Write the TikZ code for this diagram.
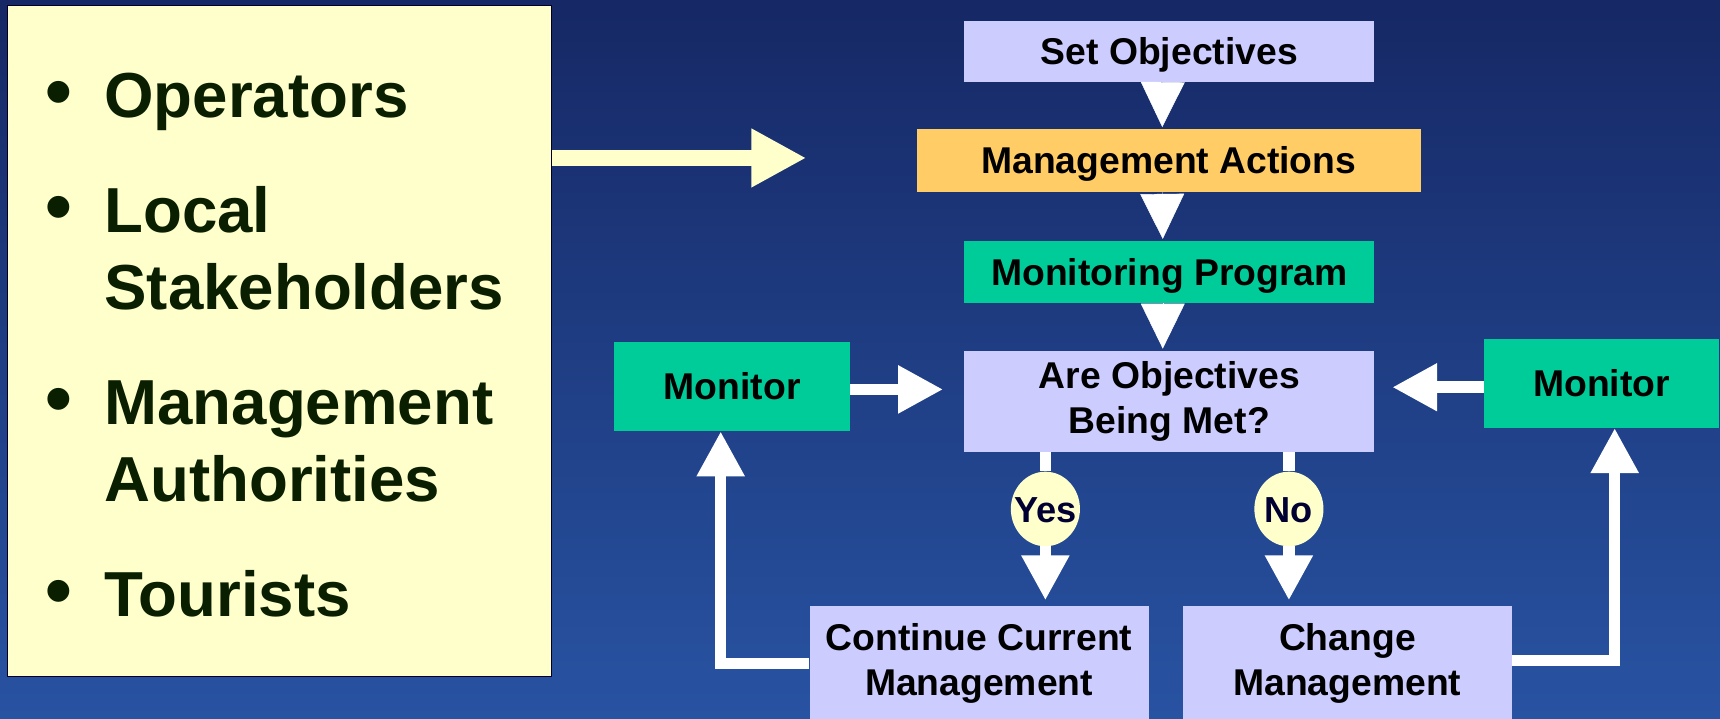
\documentclass[tikz,border=0pt]{standalone}
\usepackage{fontspec}
\setmainfont{Liberation Sans}
\usepackage{xcolor}
\usepackage{tikz}
\usetikzlibrary{arrows.meta,shapes.geometric}
\definecolor{lav}{HTML}{CCCCFF}
\definecolor{gold}{HTML}{FFCC66}
\definecolor{sea}{HTML}{00CC99}
\definecolor{cream}{HTML}{FFFFCC}
\definecolor{navytop}{HTML}{162865}
\definecolor{navybot}{HTML}{2853A2}
\definecolor{ink}{HTML}{0A1E00}
\definecolor{yesno}{HTML}{000033}
\tikzstyle{box} = [rectangle, inner sep=0pt, align=center, font={\bfseries\fontsize{34}{41}\selectfont}]
\tikzstyle{oneline} = [text height=24pt, text depth=0pt]
\tikzstyle{blob} = [ellipse, fill=cream, inner sep=0pt, minimum width=63pt, minimum height=68pt, text=yesno, text height=24pt, text depth=0pt, font={\bfseries\fontsize{33}{40}\selectfont}]
\tikzstyle{drop} = [white, line width=0.4pt, shorten >=2pt, -{Triangle[width=40pt,length=41pt]}]
\tikzstyle{fat} = [white, line width=10.5pt, -{Triangle[width=41pt,length=41pt]}]
\newcommand{\listdot}{\makebox[57pt][l]{\hspace{3pt}\scalebox{1.2}{\textbullet}}}

\begin{document}
\begin{tikzpicture}[x=1pt, y=-1pt]
		\shade[top color=navytop, bottom color=navybot] (0,0) rectangle (1568,655);
		\useasboundingbox (0,0) rectangle (1568,655);

		% who takes part
		\node (who) [draw=black!85!blue, line width=1.2pt, fill=cream, minimum width=496pt, minimum height=612pt] at (255,311) {};
		\node (whotext) [anchor=north west, inner sep=0pt, text=ink, font={\bfseries\fontsize{58}{70}\selectfont}] at (38,58) {%
			\begin{tabular}{@{}l@{}}
			\listdot Operators\\[35pt]
			\listdot Local\\
			\hspace*{57pt}Stakeholders\\[35pt]
			\listdot Management\\
			\hspace*{57pt}Authorities\\[35pt]
			\listdot Tourists
			\end{tabular}};
		\coordinate (aim) at (735,144);

		% flow chart
		\node (setobj) [box, oneline, fill=lav, minimum width=374pt, minimum height=56pt] at (1066,47) {Set Objectives};
		\node (mgmtact) [box, oneline, fill=gold, minimum width=459pt, minimum height=57pt] at (1065.5,146.5) {Management Actions};
		\node (monprog) [box, oneline, fill=sea, minimum width=374pt, minimum height=56pt] at (1066,248) {Monitoring Program};
		\node (met) [box, fill=lav, minimum width=374pt, minimum height=92pt] at (1066,366) {Are Objectives\\Being Met?};
		\node (monl) [box, oneline, fill=sea, minimum width=215pt, minimum height=81pt] at (667.5,352.5) {Monitor};
		\node (monr) [box, oneline, fill=sea, minimum width=214pt, minimum height=81pt] at (1460,349.5) {Monitor};
		\node (yes) [blob] at (953,464) {\makebox[0pt]{Yes}};
		\node (no) [blob] at (1175,464) {\makebox[0pt]{No}};
		\node (cont) [box, fill=lav, minimum width=309pt, minimum height=105pt] at (892.5,605) {Continue Current\\Management};
		\node (change) [box, fill=lav, minimum width=299.5pt, minimum height=105pt] at (1228.3,605) {Change\\Management};

		\draw [fat, color=cream, line width=15pt, -{Triangle[width=50pt,length=50pt]}] (who.east |- aim) -- (aim);

		\draw [drop] ([xshift=-6pt]setobj.south) -- ([xshift=-6pt]mgmtact.north);
		\draw [drop] ([xshift=-6pt]mgmtact.south) -- ([xshift=-6pt]monprog.north);
		\draw [drop] ([xshift=-6pt]monprog.south) -- ([xshift=-6pt]met.north);

		\draw [white, line width=10.5pt] (met.south -| yes) -- (yes.north);
		\draw [fat, shorten >=5pt] (yes.south) -- (yes |- cont.north);
		\draw [white, line width=10.5pt] (met.south -| no) -- (no.north);
		\draw [fat, shorten >=5pt] (no.south) -- (no |- change.north);

		\draw [fat, shorten >=19pt] ([yshift=-2.5pt]monl.east) -- ([yshift=-2.5pt]monl.east -| met.west);
		\draw [fat, shorten >=16pt] ([yshift=-3.5pt]monr.west) -- ([yshift=-3.5pt]monr.west -| met.east);
		\draw [fat] (cont.west) -| ([xshift=-10.5pt]monl.south);
		\draw [fat] ([yshift=3pt]change.east) -| ([xshift=12pt]monr.south);
	\end{tikzpicture}
\end{document}
